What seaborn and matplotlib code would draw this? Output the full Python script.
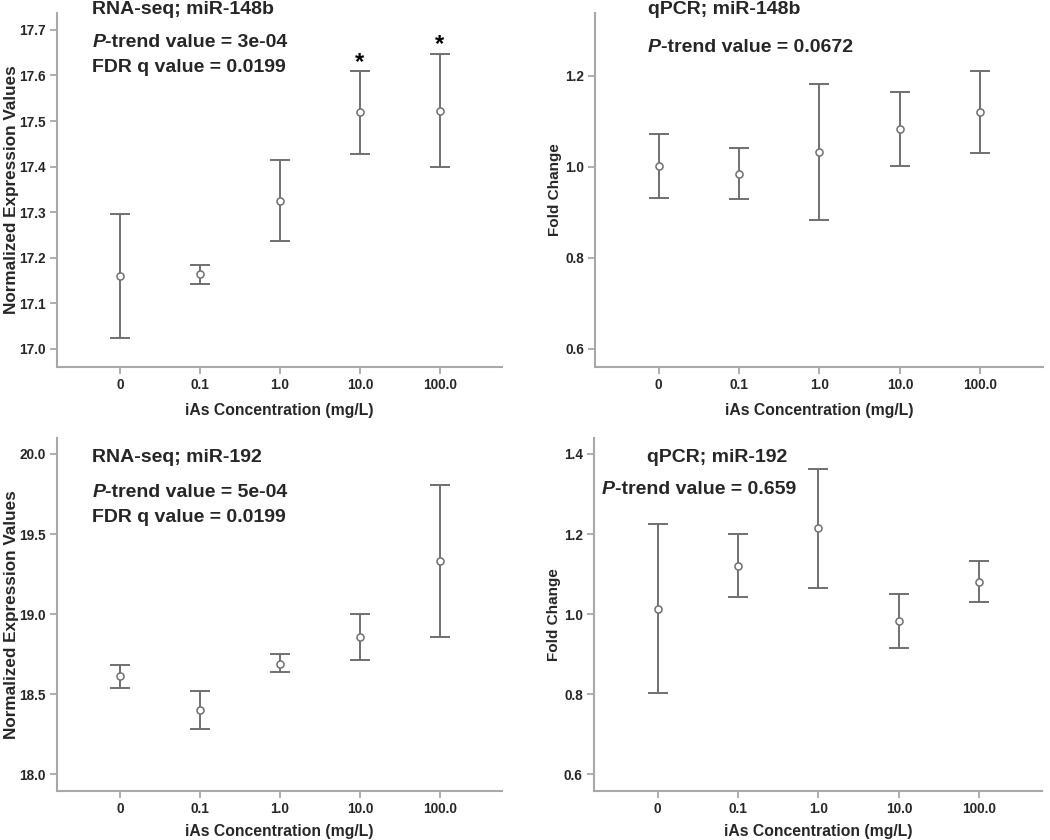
import matplotlib.pyplot as plt
import numpy as np
import pandas as pd
import seaborn as sns

# iAs concentration groups (mg/L)
conc_labels = ["0", "0.1", "1.0", "10.0", "100.0"]

# RNA-seq; miR-148b (mean and error-bar ends)
rna148_mean = [17.160, 17.165, 17.325, 17.520, 17.523]
rna148_low = [17.023, 17.143, 17.237, 17.428, 17.398]
rna148_high = [17.297, 17.185, 17.415, 17.610, 17.648]
rna148_star = [False, False, False, True, True]

# qPCR; miR-148b
qpcr148_mean = [1.002, 0.985, 1.033, 1.083, 1.120]
qpcr148_low = [0.931, 0.929, 0.884, 1.002, 1.030]
qpcr148_high = [1.072, 1.042, 1.181, 1.165, 1.210]

# RNA-seq; miR-192
rna192_mean = [18.61, 18.40, 18.69, 18.855, 19.33]
rna192_low = [18.54, 18.28, 18.635, 18.71, 18.855]
rna192_high = [18.68, 18.52, 18.75, 19.00, 19.805]

# qPCR; miR-192
qpcr192_mean = [1.013, 1.120, 1.214, 0.982, 1.080]
qpcr192_low = [0.803, 1.042, 1.066, 0.915, 1.030]
qpcr192_high = [1.225, 1.200, 1.362, 1.050, 1.133]

sns.set_theme(style="ticks")
plt.rcParams['font.family'] = ['Liberation Sans', 'DejaVu Sans']
plt.rcParams['font.weight'] = 'bold'
plt.rcParams['axes.labelweight'] = 'bold'

LINE_C = '#707070'
SPINE_C = '#a8a8a8'


def ptrend_text(ax, x, y, value):
    # italic P followed by the rest of the line
    t = ax.text(x, y, "P", transform=ax.transAxes, fontsize=14,
                fontstyle='italic', fontweight='bold', va='baseline')
    ax.annotate("-trend value = " + value, xy=(1, 0), xycoords=t,
                fontsize=14, fontweight='bold', va='bottom', ha='left')


def draw_panel(ax, mean, low, high, ylim, yticks, ylabel, title, text_pos,
               ptrend, fdr=None, stars=None, ylabel_x=-0.1, xlabel_y=-0.1,
               ylabel_size=11):
    df = pd.DataFrame({'conc': conc_labels, 'mean': mean, 'low': low, 'high': high})
    pos = np.arange(len(df))

    ax.errorbar(pos, df['mean'], yerr=[df['mean'] - df['low'], df['high'] - df['mean']],
                fmt='none', ecolor=LINE_C, elinewidth=1.4, capsize=7.5, capthick=1.4)
    sns.scatterplot(x=pos, y=df['mean'], ax=ax, marker='o', s=26,
                    facecolor='white', edgecolor=LINE_C, linewidth=1.1, zorder=3)

    if stars is not None:
        for p, h, s in zip(pos, df['high'], stars):
            if s:
                ax.annotate("*", xy=(p, h), xytext=(0, -2), textcoords='offset points',
                            ha='center', va='bottom', fontsize=17, fontweight='bold',
                            color='black')

    ax.set_xlim(-0.79, 4.78)
    ax.set_ylim(*ylim)
    ax.set_xticks(pos)
    ax.set_xticklabels(df['conc'])
    ax.set_yticks(yticks)
    ax.set_yticklabels([f"{v:.1f}" for v in yticks])
    ax.tick_params(labelsize=9.8, length=5, width=1.3, color=SPINE_C, pad=3)
    for lab in ax.get_xticklabels() + ax.get_yticklabels():
        lab.set_fontweight('bold')

    for side in ['top', 'right']:
        ax.spines[side].set_visible(False)
    for side in ['left', 'bottom']:
        ax.spines[side].set_color(SPINE_C)
        ax.spines[side].set_linewidth(1.5)

    ax.set_ylabel(ylabel, fontsize=ylabel_size, fontweight='bold')
    ax.set_xlabel("iAs Concentration (mg/L)", fontsize=11.3, fontweight='bold')
    ax.yaxis.set_label_coords(ylabel_x, 0.5)
    ax.xaxis.set_label_coords(0.5, xlabel_y)

    tx, ty_title, ty_p, ty_fdr = text_pos
    ax.text(tx[0], ty_title, title, transform=ax.transAxes, fontsize=14,
            fontweight='bold', va='baseline', ha='left')
    ptrend_text(ax, tx[1], ty_p, ptrend)
    if fdr is not None:
        ax.text(tx[1], ty_fdr, "FDR q value = " + fdr, transform=ax.transAxes,
                fontsize=14, fontweight='bold', va='baseline', ha='left')


fig = plt.figure(figsize=(10.5, 8.4), dpi=100)
ax1 = fig.add_axes([0.0543, 0.563, 0.424, 0.4215])
ax2 = fig.add_axes([0.5667, 0.563, 0.4267, 0.4215])
ax3 = fig.add_axes([0.0543, 0.0583, 0.424, 0.4203])
ax4 = fig.add_axes([0.5657, 0.0583, 0.4267, 0.4203])

draw_panel(ax1, rna148_mean, rna148_low, rna148_high, (16.96, 17.737),
           [17.0, 17.1, 17.2, 17.3, 17.4, 17.5, 17.6, 17.7],
           "Normalized Expression Values", "RNA-seq; miR-148b",
           ((0.079, 0.079), 0.997, 0.904, 0.833), "3e-04", fdr="0.0199",
           stars=rna148_star, ylabel_x=-0.085, xlabel_y=-0.102, ylabel_size=12.3)

draw_panel(ax2, qpcr148_mean, qpcr148_low, qpcr148_high, (0.56, 1.338),
           [0.6, 0.8, 1.0, 1.2], "Fold Change", "qPCR; miR-148b",
           ((0.118, 0.118), 0.997, 0.89, None), "0.0672",
           ylabel_x=-0.074, xlabel_y=-0.102)

draw_panel(ax3, rna192_mean, rna192_low, rna192_high, (17.894, 20.1),
           [18.0, 18.5, 19.0, 19.5, 20.0],
           "Normalized Expression Values", "RNA-seq; miR-192",
           ((0.079, 0.079), 0.932, 0.833, 0.762), "5e-04", fdr="0.0199",
           ylabel_x=-0.085, xlabel_y=-0.093, ylabel_size=12.3)

draw_panel(ax4, qpcr192_mean, qpcr192_low, qpcr192_high, (0.558, 1.44),
           [0.6, 0.8, 1.0, 1.2, 1.4], "Fold Change", "qPCR; miR-192",
           ((0.118, 0.018), 0.932, 0.841, None), "0.659",
           ylabel_x=-0.074, xlabel_y=-0.093)

fig.savefig("out.png", dpi=100)
